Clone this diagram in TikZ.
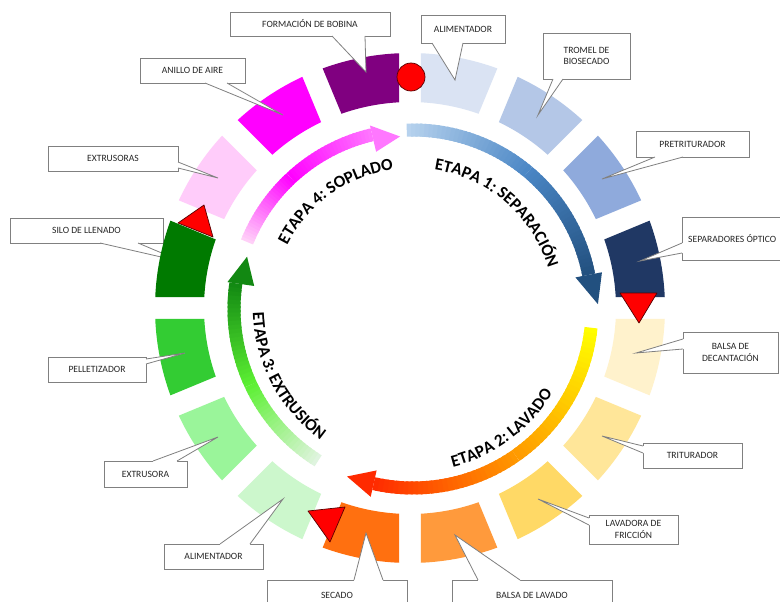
\documentclass[tikz,border=0pt]{standalone}
\usepackage{fontspec}
\setmainfont{Carlito}
\usetikzlibrary{calc,decorations.text}
\definecolor{cgray}{HTML}{808080}
\definecolor{ctext}{HTML}{262626}
\definecolor{sA}{HTML}{DAE3F3}
\definecolor{sB}{HTML}{B4C7E7}
\definecolor{sC}{HTML}{8FAADC}
\definecolor{sD}{HTML}{203864}
\definecolor{sE}{HTML}{FFF2CC}
\definecolor{sF}{HTML}{FFE699}
\definecolor{sG}{HTML}{FFD966}
\definecolor{sH}{HTML}{FF9A3C}
\definecolor{sI}{HTML}{FF7010}
\definecolor{sJ}{HTML}{CCF7CC}
\definecolor{sK}{HTML}{9AF59A}
\definecolor{sL}{HTML}{33CC33}
\definecolor{sM}{HTML}{007A00}
\definecolor{sN}{HTML}{FFCCFA}
\definecolor{sO}{HTML}{FF00FF}
\definecolor{sP}{HTML}{800080}
\definecolor{bA}{HTML}{B8D3EE}
\definecolor{bB}{HTML}{4A86C5}
\definecolor{bC}{HTML}{22507F}
\definecolor{yA}{HTML}{FFFF00}
\definecolor{yB}{HTML}{FF9900}
\definecolor{yC}{HTML}{FF2A00}
\definecolor{gA}{HTML}{E2F4E2}
\definecolor{gB}{HTML}{5CF033}
\definecolor{gC}{HTML}{128812}
\definecolor{pA}{HTML}{FFD4F8}
\definecolor{pB}{HTML}{FF00FF}
\definecolor{pC}{HTML}{FF77FF}
\definecolor{markred}{HTML}{FF0000}
\newcommand\stagefont{\bfseries\fontsize{17}{17}\selectfont}
% annular segment ending at angle #1 (clockwise start), colour #2
\newcommand\ringseg[2]{\fill[#2] ({#1-22.5+2.47}:255) arc[start angle={#1-22.5+2.47}, end angle={#1-2.47}, radius=255] -- ({#1-3.06}:206) arc[start angle={#1-3.06}, end angle={#1-22.5+3.06}, radius=206] -- cycle;}
% gradient arc: start, end, colour1, colour2, steps
\newcommand\garc[5]{\foreach \i in {1,...,#5}{%
  \pgfmathsetmacro\aa{#1+(#2-#1)*(\i-1)/#5}%
  \pgfmathsetmacro\bb{#1+(#2-#1)*min(\i+0.5,#5)/#5}%
  \pgfmathtruncatemacro\pp{100*(\i-0.5)/#5}%
  \draw[line width=13pt, color=#4!\pp!#3] (\aa:179) arc[start angle=\aa, end angle=\bb, radius=179];}}
% pointers of callouts: node, offset a, offset b, tip
\newcommand\botptr[4]{\fill[white] ($(#1.south west)+(#2,1.2)$) -- ($(#1.south west)+(#2,0)$) -- (#4) -- ($(#1.south west)+(#3,0)$) -- ($(#1.south west)+(#3,1.2)$) -- cycle;
  \draw[callline] ($(#1.south west)+(#2,0)$) -- (#4) -- ($(#1.south west)+(#3,0)$);}
\newcommand\topptr[4]{\fill[white] ($(#1.north west)+(#2,-1.2)$) -- ($(#1.north west)+(#2,0)$) -- (#4) -- ($(#1.north west)+(#3,0)$) -- ($(#1.north west)+(#3,-1.2)$) -- cycle;
  \draw[callline] ($(#1.north west)+(#2,0)$) -- (#4) -- ($(#1.north west)+(#3,0)$);}
\newcommand\leftptr[4]{\fill[white] ($(#1.north west)+(1.2,-#2)$) -- ($(#1.north west)+(0,-#2)$) -- (#4) -- ($(#1.north west)+(0,-#3)$) -- ($(#1.north west)+(1.2,-#3)$) -- cycle;
  \draw[callline] ($(#1.north west)+(0,-#2)$) -- (#4) -- ($(#1.north west)+(0,-#3)$);}
\newcommand\rightptr[4]{\fill[white] ($(#1.north east)+(-1.2,-#2)$) -- ($(#1.north east)+(0,-#2)$) -- (#4) -- ($(#1.north east)+(0,-#3)$) -- ($(#1.north east)+(-1.2,-#3)$) -- cycle;
  \draw[callline] ($(#1.north east)+(0,-#2)$) -- (#4) -- ($(#1.north east)+(0,-#3)$);}
\begin{document}
\begin{tikzpicture}[x=1pt,y=1pt,
  callbox/.style={draw=cgray, line width=0.8pt, fill=white, inner sep=0pt, outer sep=0pt,
    font=\fontsize{9.6}{11.5}\selectfont, text=ctext, align=center},
  calltext/.style={inner sep=0pt, font=\fontsize{9.6}{11.5}\selectfont, text=ctext},
  callline/.style={draw=cgray, line width=0.8pt, line join=miter},
  redmark/.style={fill=markred, draw=red!35!black, line width=0.7pt, line join=round}]
\useasboundingbox (0,0) rectangle (780,-602);
\fill[white] (0,0) rectangle (780,-602);

% callout drawn behind the ring
\node[callbox, minimum width=153, minimum height=25] (cSI) at (86.5,-230.5) {SILO DE LLENADO};
\coordinate (tSI) at (183,-262);
\botptr{cSI}{90}{128}{tSI}

% ring of stations
\begin{scope}[shift={(410,-308)}]
\ringseg{90}{sA}
\ringseg{67.5}{sB}
\ringseg{45}{sC}
\ringseg{22.5}{sD}
\ringseg{0}{sE}
\ringseg{-22.5}{sF}
\ringseg{-45}{sG}
\ringseg{-67.5}{sH}
\ringseg{-90}{sI}
\ringseg{-112.5}{sJ}
\ringseg{-135}{sK}
\ringseg{-157.5}{sL}
\ringseg{180}{sM}
\ringseg{157.5}{sN}
\ringseg{135}{sO}
\ringseg{112.5}{sP}
\end{scope}

% inner stage arrows
\begin{scope}[shift={(413,-309)}]
\garc{92}{50}{bA}{bB}{30}
\garc{50}{11}{bB}{bC}{30}
\fill[bC] (11:165.5) -- (1.5:185) -- (11:192.5) -- cycle;
\garc{-6}{-55}{yA}{yB}{30}
\garc{-55}{-102.7}{yB}{yC}{30}
\fill[yC] (-102.7:165.5) -- (-111.5:180) -- (-102.7:192.5) -- cycle;
\garc{238}{205}{gA}{gB}{25}
\garc{205}{171.75}{gB}{gC}{25}
\fill[gC] (171.75:160.5) -- (162.5:174) -- (171.75:187.5) -- cycle;
\garc{158}{133}{pA}{pB}{25}
\garc{133}{103.2}{pB}{pC}{25}
\fill[pC] (103.2:161.5) -- (94.3:173) -- (103.2:188.5) -- cycle;
% stage labels
\path[decorate, decoration={text along path, text align=center, text={|\stagefont|ETAPA 1: SEPARACIÓN}}] (94:141) arc[start angle=94, end angle=4, radius=141];
\path[decorate, decoration={text along path, text align=center, text={|\stagefont|ETAPA 4: SOPLADO}}] (170:141) arc[start angle=170, end angle=81, radius=141];
\path[decorate, decoration={text along path, text align=center, text={|\stagefont|ETAPA 2: LAVADO}}] (-98.5:163) arc[start angle=-98.5, end angle=-8.5, radius=163];
\path[decorate, decoration={text along path, text align=center, text={|\stagefont|ETAPA 3: EXTRUSIÓN}}] (163:160) arc[start angle=163, end angle=253, radius=160];
\end{scope}

% callouts
\node[callbox, minimum width=160, minimum height=24] (cFB) at (310,-24) {FORMACIÓN DE BOBINA};
\coordinate (tFB) at (366,-72);
\botptr{cFB}{102}{135}{tFB}

\node[callbox, minimum width=84, minimum height=28] (cAL) at (463,-29) {ALIMENTADOR};
\coordinate (tAL) at (455,-80);
\botptr{cAL}{11}{42}{tAL}

\node[callbox, minimum width=87, minimum height=46] (cTR) at (586.5,-56) {TROMEL DE\\BIOSECADO};
\coordinate (tTR) at (538,-115);
\botptr{cTR}{10}{20}{tTR}

\node[callbox, minimum width=113, minimum height=26] (cPT) at (692.5,-144) {PRETRITURADOR};
\coordinate (tPT) at (602,-179);
\botptr{cPT}{19}{47}{tPT}

\node[callbox, minimum width=122, minimum height=43] (cSO) at (743,-238.5) {};
\node[calltext, anchor=west] (xSO) at ($(cSO.west)+(6,0)$) {SEPARADORES ÓPTICO};
\coordinate (tSO) at (640,-261);
\leftptr{cSO}{26}{36}{tSO}

\node[callbox, minimum width=95, minimum height=41] (cBD) at (730.5,-352.5) {BALSA DE\\DECANTACIÓN};
\coordinate (tBD) at (636,-353);
\leftptr{cBD}{7}{17}{tBD}

\node[callbox, minimum width=99, minimum height=25] (cTI) at (692.5,-455.5) {TRITURADOR};
\coordinate (tTI) at (602,-436);
\leftptr{cTI}{3}{10}{tTI}

\node[callbox, minimum width=89, minimum height=29] (cLF) at (633.5,-529.5) {LAVADORA DE\\FRICCIÓN};
\coordinate (tLF) at (538,-499);
\leftptr{cLF}{3}{10}{tLF}

\node[callbox, minimum width=160, minimum height=30] (cBL) at (532,-595) {BALSA DE LAVADO};
\coordinate (tBL) at (455,-535);
\topptr{cBL}{26}{68}{tBL}

\node[callbox, minimum width=140, minimum height=30] (cSE) at (337,-595) {SECADO};
\coordinate (tSE) at (366,-533);
\topptr{cSE}{87}{116}{tSE}

\node[callbox, minimum width=99, minimum height=25] (cAG) at (213.5,-556.5) {ALIMENTADOR};
\coordinate (tAG) at (283,-499);
\topptr{cAG}{56}{86}{tAG}

\node[callbox, minimum width=83, minimum height=26] (cEX) at (145.5,-474) {EXTRUSORA};
\coordinate (tEX) at (218,-437);
\topptr{cEX}{49}{73}{tEX}

\node[callbox, minimum width=98, minimum height=25] (cPE) at (97,-369.5) {PELLETIZADOR};
\coordinate (tPE) at (185,-353);
\rightptr{cPE}{2}{7}{tPE}

\node[callbox, minimum width=130, minimum height=25] (cES) at (113,-158.5) {EXTRUSORAS};
\coordinate (tES) at (218,-178);
\rightptr{cES}{16}{22}{tES}

\node[callbox, minimum width=105, minimum height=25] (cAA) at (192.5,-70.5) {ANILLO DE AIRE};
\coordinate (tAA) at (283,-115);
\botptr{cAA}{65}{87}{tAA}

% red markers
\node[circle, redmark, minimum size=28, inner sep=0pt] (mC) at (411,-77) {};
\path[redmark] (620,-293) -- (657,-293) -- (639,-323) -- cycle;
\path[redmark] (178,-223) -- (213,-237) -- (204,-205) -- cycle;
\path[redmark] (345,-507) -- (330,-542) -- (308,-511) -- cycle;
\end{tikzpicture}
\end{document}
